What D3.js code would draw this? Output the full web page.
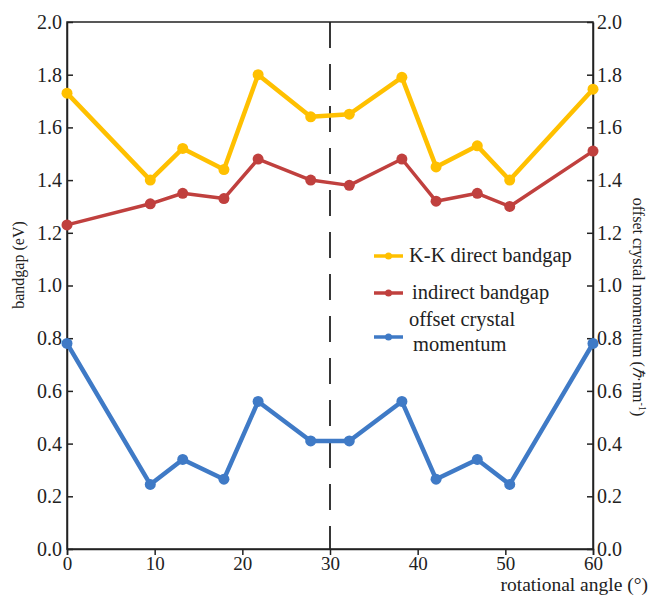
<!DOCTYPE html>
<html><head><meta charset="utf-8">
<script src="https://cdn.jsdelivr.net/npm/d3@7"></script>
<style>body{margin:0;background:#fff}svg{display:block}</style>
</head><body>
<svg id="c" width="649" height="599"></svg>
<script>
const angles = [0, 9.5, 13.2, 17.9, 21.8, 27.8, 32.2, 38.2, 42.1, 46.8, 50.5, 60];
const kkDirect = [1.73, 1.40, 1.52, 1.44, 1.80, 1.64, 1.65, 1.79, 1.45, 1.53, 1.40, 1.745];
const indirect = [1.23, 1.31, 1.35, 1.33, 1.48, 1.40, 1.38, 1.48, 1.32, 1.35, 1.30, 1.51];
const offsetK = [0.78, 0.245, 0.34, 0.265, 0.56, 0.41, 0.41, 0.56, 0.265, 0.34, 0.245, 0.78];
const xTicks = [0, 10, 20, 30, 40, 50, 60];
const yTicks = [0, 0.2, 0.4, 0.6, 0.8, 1.0, 1.2, 1.4, 1.6, 1.8, 2.0];
const seriesNames = ["K-K direct bandgap", "indirect bandgap", "offset crystal momentum"];

const FF = "Liberation Serif";
const svg = d3.select("#c");
const L = 67, R = 593, T = 22, B = 549;
const x = d3.scaleLinear().domain([0, 60]).range([L, R]);
const yl = d3.scaleLinear().domain([0, 2]).range([B, T]);
const yr = d3.scaleLinear().domain([0, 2]).range([B, T]);

svg.append("rect").attr("x", L).attr("y", T).attr("width", R - L).attr("height", B - T)
  .attr("fill", "none").attr("stroke", "#222").attr("stroke-width", 1.5);

const fmt = d3.format(".1f");
const ax = svg.append("g").attr("transform", `translate(0,${B})`)
  .call(d3.axisBottom(x).tickValues(xTicks).tickSize(6).tickPadding(4));
const ayl = svg.append("g").attr("transform", `translate(${L},0)`)
  .call(d3.axisLeft(yl).tickValues(yTicks).tickFormat(fmt).tickSizeInner(-6).tickSizeOuter(0).tickPadding(6));
const ayr = svg.append("g").attr("transform", `translate(${R},0)`)
  .call(d3.axisRight(yr).tickValues(yTicks).tickFormat(fmt).tickSizeInner(-6).tickSizeOuter(0).tickPadding(6));
[ax, ayl, ayr].forEach(g => {
  g.attr("font-family", null).attr("font-size", null);
  g.select(".domain").attr("stroke", "#222").attr("stroke-width", 1.5);
  g.selectAll(".tick line").attr("stroke", "#222").attr("stroke-width", 1.5);
  g.selectAll(".tick text").attr("fill", "#222").style("font-family", FF).style("font-size", "20px");
});
ayl.selectAll(".tick text").attr("x", -5);
ayr.selectAll(".tick text").attr("x", 4);
ax.selectAll(".tick text").attr("y", 21).attr("dy", null).style("font-size", "19px");

svg.append("line").attr("x1", x(30)).attr("x2", x(30)).attr("y1", T).attr("y2", B)
  .attr("stroke", "#222").attr("stroke-width", 1.8).attr("stroke-dasharray", "26,16");

const series = [
  {vals: kkDirect, color: "#ffc000", w: 4.5, r: 5.5},
  {vals: indirect, color: "#c0403e", w: 3.5, r: 5.5},
  {vals: offsetK, color: "#3f7ac6", w: 4.5, r: 5.5}
];
const line = d3.line().x((d, i) => x(angles[i])).y(d => yl(d));
series.forEach(s => {
  svg.append("path").datum(s.vals).attr("d", line).attr("fill", "none")
    .attr("stroke", s.color).attr("stroke-width", s.w).attr("stroke-linejoin", "round");
  svg.selectAll(null).data(s.vals).enter().append("circle")
    .attr("cx", (d, i) => x(angles[i])).attr("cy", d => yl(d)).attr("r", s.r).attr("fill", s.color);
});

function txt(xp, yp, s, size) {
  return svg.append("text").attr("x", xp).attr("y", yp).attr("fill", "#222")
    .style("font-family", FF).style("font-size", size + "px").text(s);
}
const leg = [
  {y: 256, ty: [262]},
  {y: 293, ty: [299]},
  {y: 337, ty: [326, 351]}
];
leg.forEach((l, i) => {
  const c = series[i].color;
  svg.append("line").attr("x1", 374).attr("x2", 403).attr("y1", l.y).attr("y2", l.y)
    .attr("stroke", c).attr("stroke-width", 3.5);
  svg.append("circle").attr("cx", 388.5).attr("cy", l.y).attr("r", 3.5).attr("fill", c);
  if (i < 2) {
    txt(i === 0 ? 409 : 412, l.ty[0], seriesNames[i], 20.5);
  } else {
    const words = seriesNames[i].split(" ");
    txt(409, l.ty[0], words.slice(0, 2).join(" "), 20.5);
    txt(413, l.ty[1], words[2], 20.5);
  }
});

svg.append("text").attr("transform", `translate(24,265) rotate(-90)`).attr("text-anchor", "middle")
  .attr("fill", "#222").style("font-family", FF).style("font-size", "16px").text("bandgap (eV)");
const rt = svg.append("text").attr("transform", `translate(633,307) rotate(90)`).attr("text-anchor", "middle")
  .attr("fill", "#222").style("font-family", FF).style("font-size", "16px");
rt.append("tspan").text("offset crystal momentum (");
rt.append("tspan").style("font-style", "italic").text("ℏ");
rt.append("tspan").text("·nm");
rt.append("tspan").attr("dy", -6).style("font-size", "10px").text("-1");
rt.append("tspan").attr("dy", 6).text(")");
txt(648, 591, "rotational angle (°)", 19.5).attr("text-anchor", "end");
</script>
</body></html>
